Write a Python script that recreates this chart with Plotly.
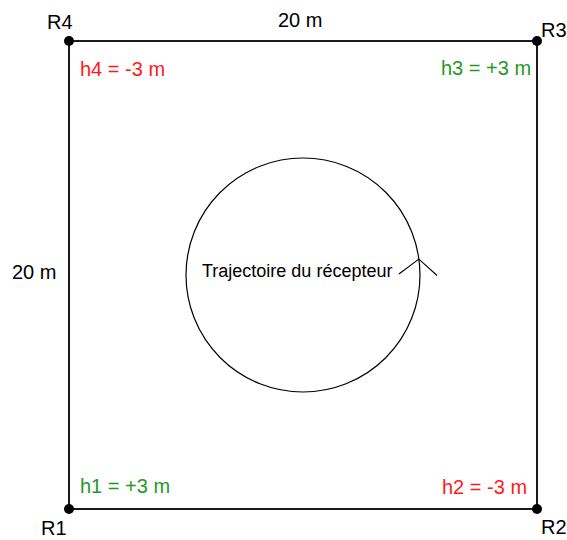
import plotly.graph_objects as go

# --- data ---
corner_names = ["R1", "R2", "R3", "R4"]
corner_x = [0, 20, 20, 0]
corner_y = [0, 0, 20, 20]
heights = ["h1 = +3 m", "h2 = -3 m", "h3 = +3 m", "h4 = -3 m"]
height_values = [3, -3, 3, -3]
side_length_label = "20 m"
circle_center = (10, 10)
circle_radius = 5
trajectory_label = "Trajectoire du récepteur"

RED = "#ff1a1a"
GREEN = "#1f9a1f"
FONT = "Liberation Sans, Arial, sans-serif"

# pixel mapping (for layout only)
PX0, PY0, S = 69, 509, 23.4
W, H = 567, 540
xr = [(0 - PX0) / S, (W - PX0) / S]
yr = [(PY0 - H) / S, (PY0 - 0) / S]


def dx(px):
    return (px - PX0) / S


def dy(py):
    return (PY0 - py) / S


fig = go.Figure()

# square outline
fig.add_trace(go.Scatter(
    x=corner_x + [corner_x[0]], y=corner_y + [corner_y[0]],
    mode="lines", line=dict(color="#1a1a1a", width=2),
    hoverinfo="skip", showlegend=False))
# corner dots
fig.add_trace(go.Scatter(
    x=corner_x, y=corner_y, mode="markers",
    marker=dict(color="black", size=10),
    hoverinfo="skip", showlegend=False))

# circle (receiver trajectory)
cx, cy = circle_center
fig.add_shape(type="circle", xref="x", yref="y",
              x0=cx - circle_radius, x1=cx + circle_radius,
              y0=cy - circle_radius, y1=cy + circle_radius,
              line=dict(color="black", width=1.2))

# arrow head on the right side of the circle (counter-clockwise)
ax, ay = cx + circle_radius * 0.99, cy + 0.68
fig.add_shape(type="path", xref="x", yref="y",
              path=f"M {ax-0.85},{ay-0.64} L {ax},{ay} L {ax+0.78},{ay-0.70}",
              line=dict(color="black", width=1.1))

annotations = []
# trajectory label
annotations.append(dict(x=dx(296.5), y=dy(271), text=trajectory_label,
                        showarrow=False, font=dict(size=18, color="black", family=FONT),
                        xanchor="center", yanchor="middle"))
# side labels
annotations.append(dict(x=dx(300), y=dy(20), text=side_length_label, showarrow=False,
                        font=dict(size=20, color="black", family=FONT)))
annotations.append(dict(x=dx(34), y=dy(272), text=side_length_label, showarrow=False,
                        font=dict(size=20, color="black", family=FONT)))

# corner names
name_pos = {"R1": (54, 528), "R2": (554, 527), "R3": (554, 30), "R4": (60, 22)}
for n in corner_names:
    px, py = name_pos[n]
    annotations.append(dict(x=dx(px), y=dy(py), text=n, showarrow=False,
                            font=dict(size=20, color="black", family=FONT)))

# height labels
h_pos = [(78, 486, "left"), (529, 487, "right"), (533, 68, "right"), (78, 69, "left")]
for txt, val, (px, py, anc) in zip(heights, height_values, h_pos):
    annotations.append(dict(x=dx(px), y=dy(py), text=txt, showarrow=False,
                            xanchor=anc, yanchor="middle",
                            font=dict(size=20, color=GREEN if val > 0 else RED, family=FONT)))

fig.update_layout(
    width=W, height=H,
    margin=dict(l=0, r=0, t=0, b=0),
    paper_bgcolor="white", plot_bgcolor="white",
    xaxis=dict(range=xr, visible=False, fixedrange=True),
    yaxis=dict(range=yr, visible=False, fixedrange=True),
    annotations=annotations,
    showlegend=False,
)

fig.write_html("out.html", config={"displayModeBar": False},
               post_script="document.body.style.margin='0';document.body.style.overflow='hidden';")
